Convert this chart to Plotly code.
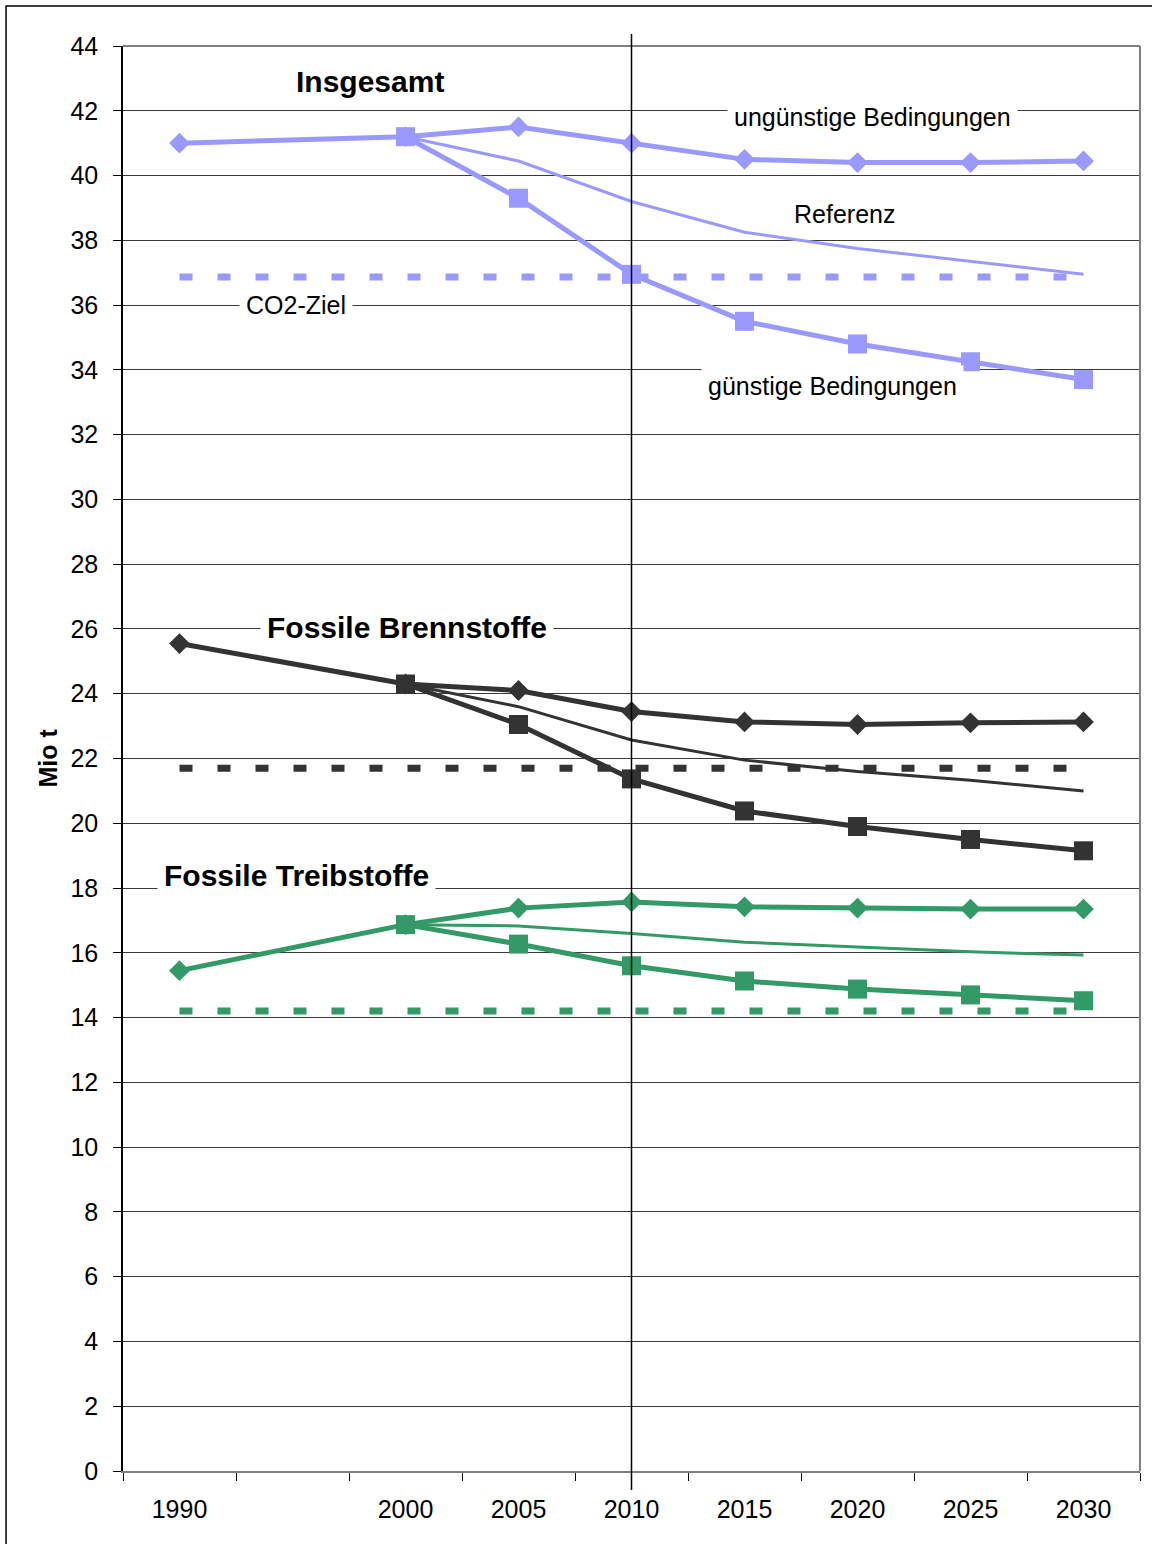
import plotly.graph_objects as go

# Years on the horizontal axis
years_full = [1990, 2000, 2005, 2010, 2015, 2020, 2025, 2030]
years_proj = [2000, 2005, 2010, 2015, 2020, 2025, 2030]
target_span = [1990, 2030]
x_labels = ["1990", "2000", "2005", "2010", "2015", "2020", "2025", "2030"]

# Insgesamt (Mio t CO2)
total_unfav = [41.0, 41.2, 41.5, 41.0, 40.5, 40.4, 40.4, 40.45]
total_ref = [41.2, 40.45, 39.2, 38.25, 37.75, 37.35, 36.95]
total_fav = [41.2, 39.3, 36.95, 35.5, 34.8, 34.25, 33.7]
total_target = [36.87, 36.87]

# Fossile Brennstoffe
fuel_unfav = [25.55, 24.3, 24.1, 23.45, 23.13, 23.05, 23.1, 23.13]
fuel_ref = [24.3, 23.6, 22.57, 21.95, 21.6, 21.33, 21.0]
fuel_fav = [24.3, 23.05, 21.37, 20.38, 19.9, 19.5, 19.15]
fuel_target = [21.7, 21.7]

# Fossile Treibstoffe
motor_unfav = [15.45, 16.87, 17.38, 17.57, 17.42, 17.38, 17.35, 17.35]
motor_ref = [16.87, 16.83, 16.6, 16.33, 16.18, 16.03, 15.93]
motor_fav = [16.87, 16.27, 15.6, 15.13, 14.88, 14.7, 14.52]
motor_target = [14.2, 14.2]

LAVENDER = "#9999FF"
DARK = "#333333"
GREEN = "#339966"
FONT = "Liberation Sans, Arial, sans-serif"

fig = go.Figure()

groups = [
    (LAVENDER, total_unfav, total_ref, total_fav, total_target),
    (DARK, fuel_unfav, fuel_ref, fuel_fav, fuel_target),
    (GREEN, motor_unfav, motor_ref, motor_fav, motor_target),
]

for color, unfav, ref, fav, target in groups:
    # CO2 target as a heavy dotted line
    fig.add_trace(go.Scatter(
        x=target_span, y=target, mode="lines",
        line=dict(color=color, width=7, dash="13px,25px"),
        hoverinfo="skip", showlegend=False))
    # Reference scenario: thin line, no markers
    fig.add_trace(go.Scatter(
        x=years_proj, y=ref, mode="lines",
        line=dict(color=color, width=3),
        showlegend=False))
    # Unfavourable conditions: diamonds
    fig.add_trace(go.Scatter(
        x=years_full, y=unfav, mode="lines+markers",
        line=dict(color=color, width=5),
        marker=dict(symbol="diamond", size=16, color=color),
        showlegend=False))
    # Favourable conditions: squares
    fig.add_trace(go.Scatter(
        x=years_proj, y=fav, mode="lines+markers",
        line=dict(color=color, width=5),
        marker=dict(symbol="square", size=19, color=color),
        showlegend=False))

boundaries = [1987.5 + 5 * i for i in range(10)]

fig.update_layout(
    width=1152, height=1544,
    margin=dict(l=123, r=12, t=46, b=73),
    paper_bgcolor="white", plot_bgcolor="white",
    font=dict(family=FONT, size=25, color="black"),
    xaxis=dict(
        range=[1987.5, 2032.5],
        tickvals=years_full, ticktext=x_labels,
        ticks="", showgrid=False, zeroline=False,
        showline=True, linecolor="#808080", linewidth=2,
        ticklabelstandoff=15,
        tickfont=dict(size=25),
        minor=dict(tickvals=boundaries, ticks="outside", ticklen=8,
                   tickcolor="black", tickwidth=1, showgrid=False),
    ),
    yaxis=dict(
        range=[0, 44], dtick=2, tick0=0,
        ticks="outside", ticklen=8, tickcolor="black", tickwidth=1,
        showline=True, linecolor="black", linewidth=1.5,
        showgrid=True, gridcolor="#3a3a3a", gridwidth=1,
        zeroline=False, ticklabelstandoff=10,
        tickfont=dict(size=25),
    ),
)

# Frame around the whole chart and grey top/right edge of the plot area
fig.add_shape(type="rect", xref="paper", yref="paper",
              x0=-0.115, x1=1.03, y0=-0.07, y1=1.028,
              line=dict(color="black", width=1.5), layer="below")
fig.add_shape(type="line", xref="paper", yref="paper",
              x0=0, x1=1, y0=1, y1=1, line=dict(color="#808080", width=2))
fig.add_shape(type="line", xref="paper", yref="paper",
              x0=1, x1=1, y0=0, y1=1, line=dict(color="#808080", width=2))

# Marker line for 2010
fig.add_shape(type="line", xref="x", yref="paper",
              x0=2010, x1=2010, y0=-0.0133, y1=1.0084,
              line=dict(color="black", width=1.5))

labels = [
    ("Insgesamt", 0.243, 42.9, True),
    ("ungünstige Bedingungen", 0.7365, 41.8, False),
    ("Referenz", 0.709, 38.8, False),
    ("CO2-Ziel", 0.170, 36.0, False),
    ("günstige Bedingungen", 0.698, 33.5, False),
    ("Fossile Brennstoffe", 0.279, 26.05, True),
    ("Fossile Treibstoffe", 0.171, 18.4, True),
]
for text, xp, yv, bold in labels:
    fig.add_annotation(
        x=xp, xref="paper", y=yv, yref="y",
        xanchor="center", yanchor="middle",
        text=f"<b>{text}</b>" if bold else text,
        showarrow=False, bgcolor="white" if text != "Insgesamt" else None,
        borderpad=6,
        font=dict(size=30 if bold else 25, family=FONT, color="black"))

fig.add_annotation(
    x=-0.0747, xref="paper", y=0.5, yref="paper",
    xanchor="center", yanchor="middle",
    text="<b>Mio t</b>", textangle=-90, showarrow=False,
    font=dict(size=25, family=FONT, color="black"))

fig.write_html("out.html")
